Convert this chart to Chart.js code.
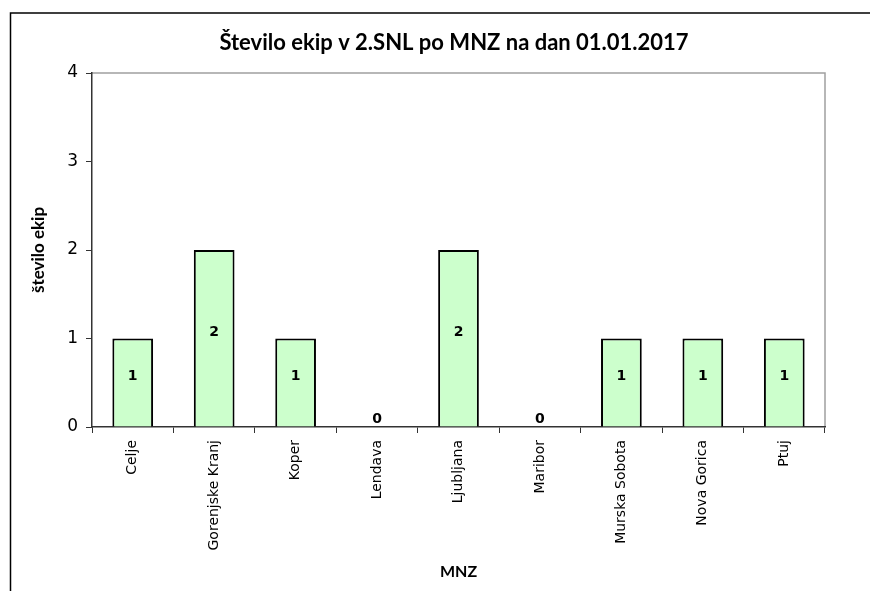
<!DOCTYPE html>
<html>
<head>
    <title>Število ekip v 2.SNL</title>
    <script src="https://cdn.jsdelivr.net/npm/chart.js"></script>
    <style>
        body { margin: 0; background: #fff; overflow: hidden; }
        #wrap { width: 870px; height: 591px; }
    </style>
</head>
<body>
    <div id="wrap"><canvas id="grafEkip" width="870" height="591"></canvas></div>
    <script>
        // podatki
        const mnz = ['Celje', 'Gorenjske Kranj', 'Koper', 'Lendava', 'Ljubljana', 'Maribor', 'Murska Sobota', 'Nova Gorica', 'Ptuj'];
        const steviloEkip = [1, 2, 1, 0, 2, 0, 1, 1, 1];
        const naslov = 'Število ekip v 2.SNL po MNZ na dan 01.01.2017';

        // okvir slike, naslov + siv rob risalne ploskve
        const okvir = {
            id: 'okvir',
            beforeDraw(chart) {
                const ctx = chart.ctx;
                const a = chart.chartArea;
                ctx.save();
                ctx.fillStyle = '#fff';
                ctx.fillRect(0, 0, chart.width, chart.height);
                ctx.strokeStyle = '#000';
                ctx.lineWidth = 1.5;
                ctx.beginPath();
                ctx.moveTo(10.5, chart.height);
                ctx.lineTo(10.5, 13);
                ctx.lineTo(chart.width, 13);
                ctx.stroke();
                ctx.strokeStyle = '#a0a0a0';
                ctx.beginPath();
                ctx.moveTo(a.left, a.top);
                ctx.lineTo(a.right, a.top);
                ctx.lineTo(a.right, a.bottom);
                ctx.stroke();
                // naslov
                ctx.fillStyle = '#000';
                ctx.font = 'bold 22px Lato';
                ctx.textAlign = 'center';
                ctx.textBaseline = 'middle';
                ctx.fillText(naslov, 454, 43);
                ctx.restore();
            }
        };

        // oznake vrednosti v stolpcih
        const oznake = {
            id: 'oznake',
            afterDatasetsDraw(chart) {
                const ctx = chart.ctx;
                const meta = chart.getDatasetMeta(0);
                ctx.save();
                ctx.font = 'bold 14px "DejaVu Sans"';
                ctx.fillStyle = '#000';
                ctx.textAlign = 'center';
                ctx.textBaseline = 'middle';
                meta.data.forEach((bar, i) => {
                    const v = chart.data.datasets[0].data[i];
                    const y = v === 0 ? bar.base - 8 : (bar.y + bar.base) / 2 - 6;
                    ctx.fillText(String(v), bar.x, y);
                });
                ctx.restore();
            }
        };

        const ctx = document.getElementById('grafEkip').getContext('2d');
        new Chart(ctx, {
            type: 'bar',
            data: {
                labels: mnz,
                datasets: [{
                    data: steviloEkip,
                    backgroundColor: '#ccffcc',
                    borderColor: '#000',
                    borderWidth: 2,
                    categoryPercentage: 1,
                    barPercentage: 0.5
                }]
            },
            plugins: [okvir, oznake],
            options: {
                responsive: false,
                animation: false,
                layout: { padding: { left: 0, right: 45, top: 73, bottom: 0 } },
                plugins: {
                    legend: { display: false },
                    tooltip: { enabled: false },
                    title: { display: false }
                },
                scales: {
                    x: {
                        afterFit: s => { s.height = 164; },
                        grid: { drawOnChartArea: false, offset: true, tickLength: 6, color: '#333', lineWidth: 1 },
                        border: { color: '#333', width: 1.5 },
                        ticks: {
                            color: '#000',
                            font: { family: 'DejaVu Sans', size: 14 },
                            minRotation: 90,
                            maxRotation: 90,
                            padding: 7,
                            autoSkip: false
                        },
                        title: {
                            display: true,
                            text: 'MNZ',
                            color: '#000',
                            font: { family: 'Lato', size: 16, weight: 'bold' },
                            padding: { top: 0, bottom: 10 }
                        }
                    },
                    y: {
                        min: 0,
                        max: 4,
                        afterFit: s => { s.width = 92; },
                        grid: { drawOnChartArea: false, tickLength: 6, color: '#333', lineWidth: 1 },
                        border: { color: '#333', width: 1.5 },
                        ticks: {
                            stepSize: 1,
                            color: '#000',
                            font: { family: 'DejaVu Sans', size: 17 },
                            padding: 8
                        },
                        title: {
                            display: true,
                            text: 'število ekip',
                            color: '#000',
                            font: { family: 'Lato', size: 17, weight: 'bold' },
                            padding: { top: 28, bottom: 0 }
                        }
                    }
                }
            }
        });
    </script>
</body>
</html>
